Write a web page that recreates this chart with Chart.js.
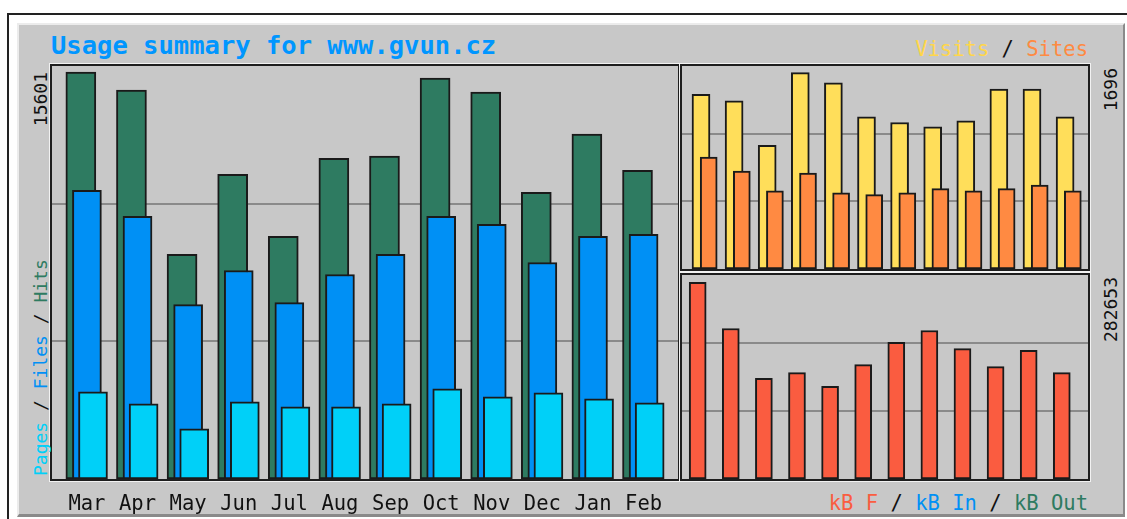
<!DOCTYPE html>
<html>
<head>
<meta charset="utf-8">
<script src="https://cdn.jsdelivr.net/npm/chart.js@4.4.1/dist/chart.umd.min.js"></script>
<style>
  body { margin: 0; background: #fff; width: 1127px; height: 519px; overflow: hidden; position: relative;
         font-family: "DejaVu Sans Mono", monospace; }
  #outer { position: absolute; left: 7px; top: 13px; width: 1140px; height: 530px; border: 2px solid #222; box-sizing: border-box; }
  #panel { position: absolute; left: 17px; top: 23px; width: 1108px; height: 494px; background: #c8c8c8;
           border-top: 2px solid #ececec; border-left: 2px solid #ececec; border-right: 2px solid #8a8a8a;
           border-bottom: 3px solid #8a8a8a; box-sizing: border-box; }
  .frame { position: absolute; border: 2px solid #1e1e1e; outline: 1px solid #f2f2f2; box-sizing: border-box; }
  canvas { position: absolute; }
  .txt { position: absolute; white-space: pre; line-height: 1; }
  .up { position: absolute; white-space: pre; line-height: 1; transform-origin: 0 0; transform: rotate(-90deg); width: 300px; }
  .sl { color: #111; }
</style>
</head>
<body>
<div id="outer"></div>
<div id="panel"></div>

<div class="frame" style="left:50px; top:64px; width:630px; height:417px;"></div>
<div class="frame" style="left:680px; top:64px; width:410px; height:207px;"></div>
<div class="frame" style="left:680px; top:273px; width:410px; height:208px;"></div>

<canvas id="main" width="626" height="450" style="left:52px; top:66px;"></canvas>
<canvas id="visits" width="406" height="203" style="left:682px; top:66px;"></canvas>
<canvas id="kbytes" width="406" height="204" style="left:682px; top:275px;"></canvas>

<div class="txt" style="left:51px; top:33px; font-size:25.5px; font-weight:bold; color:#0096ff;">Usage summary for www.gvun.cz</div>
<div class="txt" style="right:39px; top:39px; font-size:20.5px;"><span style="color:#ffd64a">Visits</span><span class="sl"> / </span><span style="color:#ff8a42">Sites</span></div>
<div class="txt" style="right:39px; top:493px; font-size:20.5px;"><span style="color:#fa5c40">kB F</span><span class="sl"> / </span><span style="color:#0090f5">kB In</span><span class="sl"> / </span><span style="color:#2e7b61">kB Out</span></div>

<div class="up" id="hitsMax" style="left:32px; top:372px; font-size:18px; color:#111; text-align:right;"></div>
<div class="up" style="left:32px; top:476px; font-size:18px;"><span style="color:#00d0f8">Pages</span><span class="sl"> / </span><span style="color:#0090f5">Files</span><span class="sl"> / </span><span style="color:#2e7b61">Hits</span></div>
<div class="up" id="visitsMax" style="left:1102px; top:368px; font-size:18px; color:#111; text-align:right;"></div>
<div class="up" id="kbMax" style="left:1102px; top:577px; font-size:18px; color:#111; text-align:right;"></div>

<script>
const months = ['Mar', 'Apr', 'May', 'Jun', 'Jul', 'Aug', 'Sep', 'Oct', 'Nov', 'Dec', 'Jan', 'Feb'];
const hits   = [15601, 14910, 8607, 11681, 9299, 12296, 12373, 15370, 14832, 10990, 13218, 11835];
const files  = [11067, 10067, 6686, 7992, 6763, 7839, 8607, 10067, 9760, 8300, 9299, 9376];
const pages  = [3343, 2882, 1921, 2959, 2767, 2767, 2882, 3458, 3151, 3305, 3074, 2920];
const visits = [1509, 1453, 1069, 1696, 1609, 1315, 1266, 1228, 1280, 1555, 1555, 1315];
const sites  = [968, 846, 676, 829, 659, 642, 659, 694, 676, 694, 725, 676];
const kbF    = [282653, 216316, 144640, 152860, 133107, 164400, 196560, 213436, 187475, 161516, 185030, 152860];

const hitsMax = Math.max(...hits);
const visitsMax = Math.max(...visits);
const kbMax = Math.max(...kbF);
document.getElementById('hitsMax').textContent = hitsMax;
document.getElementById('visitsMax').textContent = visitsMax;
document.getElementById('kbMax').textContent = kbMax;

Chart.defaults.font.family = '"DejaVu Sans Mono", monospace';
Chart.defaults.animation = false;

const edge = '#1a1a1a';
const gridGray = '#8a8a8a';

function pts(arr, shift) {
  return arr.map((v, i) => ({ x: i + shift, y: v }));
}

function barSet(arr, shift, color, width) {
  return {
    data: pts(arr, shift),
    backgroundColor: color,
    borderColor: edge,
    borderWidth: 2,
    borderSkipped: false,
    barThickness: width
  };
}

function yAxis(max) {
  return {
    min: 0,
    max: max,
    border: { display: false },
    ticks: { display: false },
    grid: { color: gridGray, lineWidth: 2, drawTicks: false },
    afterFit: s => { s.width = 0; },
    afterBuildTicks: s => { s.ticks = [{ value: max / 3 }, { value: 2 * max / 3 }]; }
  };
}

function commonOpts(xScale, max) {
  return {
    responsive: false,
    animation: false,
    layout: { padding: 0 },
    datasets: { bar: { grouped: false } },
    plugins: { legend: { display: false }, tooltip: { enabled: false } },
    events: [],
    scales: { x: xScale, y: yAxis(max) }
  };
}

// left panel: hits / files / pages
new Chart(document.getElementById('main'), {
  type: 'bar',
  data: {
    datasets: [
      barSet(pages, 0.12, '#00d0f8', 29),
      barSet(files, 0, '#0090f5', 29),
      barSet(hits, -0.12, '#2e7b61', 30)
    ]
  },
  options: commonOpts({
    type: 'linear',
    offset: false,
    min: -0.69,
    max: 11.68,
    border: { display: false },
    grid: { display: false, offset: false },
    ticks: {
      color: '#111',
      font: { size: 20.5 },
      padding: 5,
      autoSkip: false,
      maxRotation: 0,
      callback: v => months[v]
    },
    afterBuildTicks: s => { s.ticks = months.map((m, i) => ({ value: i })); },
    afterFit: s => { s.height = 37; }
  }, hitsMax / 0.9855)
});

const rightX = {
  type: 'linear',
  display: false,
  offset: false,
  grid: { offset: false },
  min: -0.574,
  max: 11.692
};

// top right: visits / sites
new Chart(document.getElementById('visits'), {
  type: 'bar',
  data: {
    datasets: [
      barSet(sites, 0.233, '#ff8a42', 17),
      barSet(visits, 0, '#ffde5a', 18)
    ]
  },
  options: commonOpts(rightX, visitsMax / 0.967)
});

// bottom right: kB F
new Chart(document.getElementById('kbytes'), {
  type: 'bar',
  data: {
    datasets: [
      barSet(kbF, -0.1, '#fa5c40', 17)
    ]
  },
  options: commonOpts(rightX, kbMax / 0.964)
});
</script>
</body>
</html>
